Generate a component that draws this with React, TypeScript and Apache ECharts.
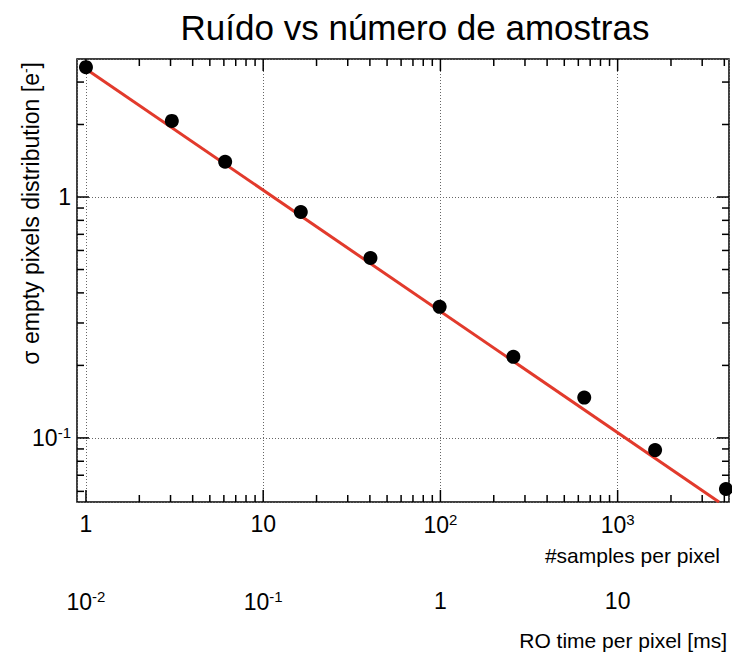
import React, { useEffect, useRef } from "react";
import * as echarts from "echarts";

// measured data
const samples = [1, 3.05, 6.1, 16.3, 40.3, 99, 258, 648, 1627, 4085];
const sigma = [3.46, 2.07, 1.4, 0.867, 0.558, 0.35, 0.217, 0.147, 0.089, 0.0614];

// fitted line end points
const fitSamples = [1, 3733];
const fitSigma = [3.4, 0.0542];

// axis tick positions
const xMajorTicks = [1, 10, 100, 1000];
const xMinorTicks = [2, 3, 4, 5, 6, 7, 8, 9, 20, 30, 40, 50, 60, 70, 80, 90, 200, 300, 400, 500, 600, 700, 800, 900, 2000, 3000, 4000];
const yMajorTicks = [0.1, 1];
const yMinorTicks = [0.06, 0.07, 0.08, 0.09, 0.2, 0.3, 0.4, 0.5, 0.6, 0.7, 0.8, 0.9, 2, 3];

// tick label texts by decade exponent
const decadeLabels: Record<string, string> = {
  "-2": "{b|10}{s|-2}",
  "-1": "{b|10}{s|-1}",
  "0": "{b|1}",
  "1": "{b|10}",
  "2": "{b|10}{s|2}",
  "3": "{b|10}{s|3}",
};

const FONT = "'Liberation Sans', Arial, Helvetica, sans-serif";

function fmt(v: number): string {
  const e = Math.log10(v);
  const r = Math.round(e);
  if (Math.abs(e - r) > 1e-6) return "";
  return decadeLabels[String(r)] ?? "";
}

const richLabel = {
  b: { fontSize: 23, fontFamily: FONT, color: "#000" },
  s: { fontSize: 15, fontFamily: FONT, color: "#000", verticalAlign: "top", padding: [0, 0, 10, 0] },
};

const X_MIN = 0.89;
const X_MAX = 4250;
const Y_MIN = 0.0542;
const Y_MAX = 3.74;
const TICK_W = 1.5;
const MAJ = 12;
const MIN = 7;

function tickSeries(data: number[][], size: number[], offset: number[]): any {
  return {
    type: "scatter",
    xAxisIndex: 0,
    yAxisIndex: 0,
    silent: true,
    clip: false,
    symbol: "rect",
    symbolSize: size,
    symbolOffset: offset,
    itemStyle: { color: "#000", opacity: 1 },
    z: 6,
    data,
  };
}

export default function App() {
  const ref = useRef<HTMLDivElement>(null);
  useEffect(() => {
    if (!ref.current) return;
    const chart = echarts.init(ref.current, undefined, { renderer: "svg" });
    const gridLine = { color: "#666", type: [1, 2], width: 1 };
    const option: any = {
      animation: false,
      backgroundColor: "#fff",
      grid: {
        left: 77,
        top: 59,
        right: 2,
        bottom: 153,
        show: true,
        borderColor: "#000",
        borderWidth: 1.5,
        backgroundColor: "transparent",
      },
      xAxis: [
        {
          type: "log",
          logBase: 10,
          min: X_MIN,
          max: X_MAX,
          position: "bottom",
          axisLine: { show: false },
          axisTick: { show: false },
          splitLine: { show: true, lineStyle: gridLine },
          axisLabel: { formatter: fmt, margin: 10, rich: richLabel },
        },
        {
          type: "log",
          logBase: 10,
          min: X_MIN / 100,
          max: X_MAX / 100,
          position: "bottom",
          offset: 77,
          axisLine: { show: false },
          axisTick: { show: false },
          splitLine: { show: false },
          axisLabel: { formatter: fmt, margin: 10, rich: richLabel },
        },
      ],
      yAxis: {
        type: "log",
        logBase: 10,
        min: Y_MIN,
        max: Y_MAX,
        position: "left",
        axisLine: { show: false },
        axisTick: { show: false },
        splitLine: { show: true, lineStyle: gridLine },
        axisLabel: { formatter: fmt, margin: 6, rich: richLabel },
      },
      graphic: [
        {
          type: "text",
          x: 415,
          y: 27,
          style: {
            text: "Ruído vs número de amostras",
            font: `35px ${FONT}`,
            fill: "#000",
            textAlign: "center",
            textVerticalAlign: "middle",
            align: "center",
            verticalAlign: "middle",
          },
        },
        {
          type: "text",
          x: 720,
          y: 555,
          style: {
            text: "#samples per pixel",
            font: `21px ${FONT}`,
            fill: "#000",
            textAlign: "right",
            textVerticalAlign: "middle",
            align: "right",
            verticalAlign: "middle",
          },
        },
        {
          type: "text",
          x: 727,
          y: 640,
          style: {
            text: "RO time per pixel [ms]",
            font: `21px ${FONT}`,
            fill: "#000",
            textAlign: "right",
            textVerticalAlign: "middle",
            align: "right",
            verticalAlign: "middle",
          },
        },
        {
          type: "text",
          x: 31,
          y: 62,
          rotation: Math.PI / 2,
          style: {
            text: "σ empty pixels distribution [e{s|-}]",
            font: `23px ${FONT}`,
            fill: "#000",
            textAlign: "right",
            textVerticalAlign: "middle",
            align: "right",
            verticalAlign: "middle",
            rich: {
              s: { fontSize: 14, fontFamily: FONT, verticalAlign: "top", padding: [0, 0, 10, 0] },
            },
          },
        },
      ],
      series: [
        // x ticks, bottom and top
        tickSeries(xMajorTicks.map((v) => [v, Y_MIN]), [TICK_W, MAJ], [0, -MAJ / 2]),
        tickSeries(xMinorTicks.map((v) => [v, Y_MIN]), [TICK_W, MIN], [0, -MIN / 2]),
        tickSeries(xMajorTicks.map((v) => [v, Y_MAX]), [TICK_W, MAJ], [0, MAJ / 2]),
        tickSeries(xMinorTicks.map((v) => [v, Y_MAX]), [TICK_W, MIN], [0, MIN / 2]),
        // y ticks, left and right
        tickSeries(yMajorTicks.map((v) => [X_MIN, v]), [MAJ, TICK_W], [MAJ / 2, 0]),
        tickSeries(yMinorTicks.map((v) => [X_MIN, v]), [MIN, TICK_W], [MIN / 2, 0]),
        tickSeries(yMajorTicks.map((v) => [X_MAX, v]), [MAJ, TICK_W], [-MAJ / 2, 0]),
        tickSeries(yMinorTicks.map((v) => [X_MAX, v]), [MIN, TICK_W], [-MIN / 2, 0]),
        {
          type: "line",
          name: "fit",
          xAxisIndex: 0,
          yAxisIndex: 0,
          data: fitSamples.map((x, i) => [x, fitSigma[i]]),
          showSymbol: false,
          symbol: "none",
          lineStyle: { color: "#e23a2c", width: 3 },
          z: 3,
          clip: true,
        },
        {
          type: "scatter",
          name: "data",
          xAxisIndex: 0,
          yAxisIndex: 0,
          data: samples.map((x, i) => [x, sigma[i]]),
          symbol: "circle",
          symbolSize: 14,
          itemStyle: { color: "#000", opacity: 1 },
          z: 4,
          clip: false,
        },
      ],
    };
    chart.setOption(option);
    return () => chart.dispose();
  }, []);
  return (
    <div
      ref={ref}
      style={{ position: "absolute", left: 0, top: 0, width: 732, height: 655 }}
    />
  );
}
